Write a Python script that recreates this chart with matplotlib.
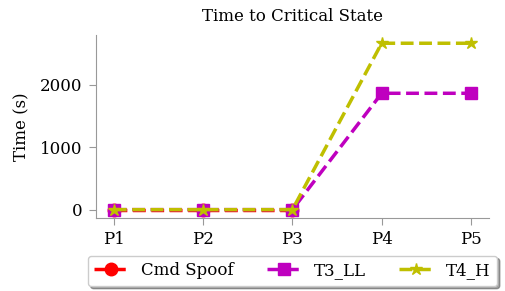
import matplotlib
matplotlib.use("Agg")
import matplotlib.pyplot as plt
import seaborn as sns

# data (Cmd Spoof never reaches P4/P5)
phases = ["P1", "P2", "P3", "P4", "P5"]
cmd_spoof = [0, 0, 0, float("nan"), float("nan")]
t3_ll = [0, 0, 0, 1860, 1860]
t4_h = [0, 0, 0, 2660, 2660]

sns.set_style("ticks")
plt.rcParams["font.family"] = ["DejaVu Serif"]
plt.rcParams["text.color"] = "black"
plt.rcParams["axes.labelcolor"] = "black"
plt.rcParams["axes.edgecolor"] = "#999999"
plt.rcParams["xtick.color"] = "#999999"
plt.rcParams["ytick.color"] = "#999999"
plt.rcParams["xtick.labelcolor"] = "black"
plt.rcParams["ytick.labelcolor"] = "black"

fig, ax = plt.subplots(figsize=(5.05, 2.91), dpi=100)
ax.plot(phases, cmd_spoof, "r--", marker="o", markersize=9, linewidth=2.5, label="Cmd Spoof")
ax.plot(phases, t3_ll, "m--", marker="s", markersize=9, linewidth=2.5, label="T3_LL")
ax.plot(phases, t4_h, "y--", marker="*", markersize=9, linewidth=2.5, label="T4_H")

ax.set_title("Time to Critical State", fontsize=12, pad=10)
ax.set_ylabel("Time (s)", fontsize=12, labelpad=7)
ax.tick_params(labelsize=12, length=5, pad=4.5)
sns.despine(ax=ax)
ax.legend(loc="upper center", bbox_to_anchor=(0.5, -0.16), ncol=3, shadow=True,
          fontsize=12, edgecolor="#cccccc")

fig.subplots_adjust(left=0.19, right=0.968, top=0.88, bottom=0.251)
fig.savefig("out.png", dpi=100)
